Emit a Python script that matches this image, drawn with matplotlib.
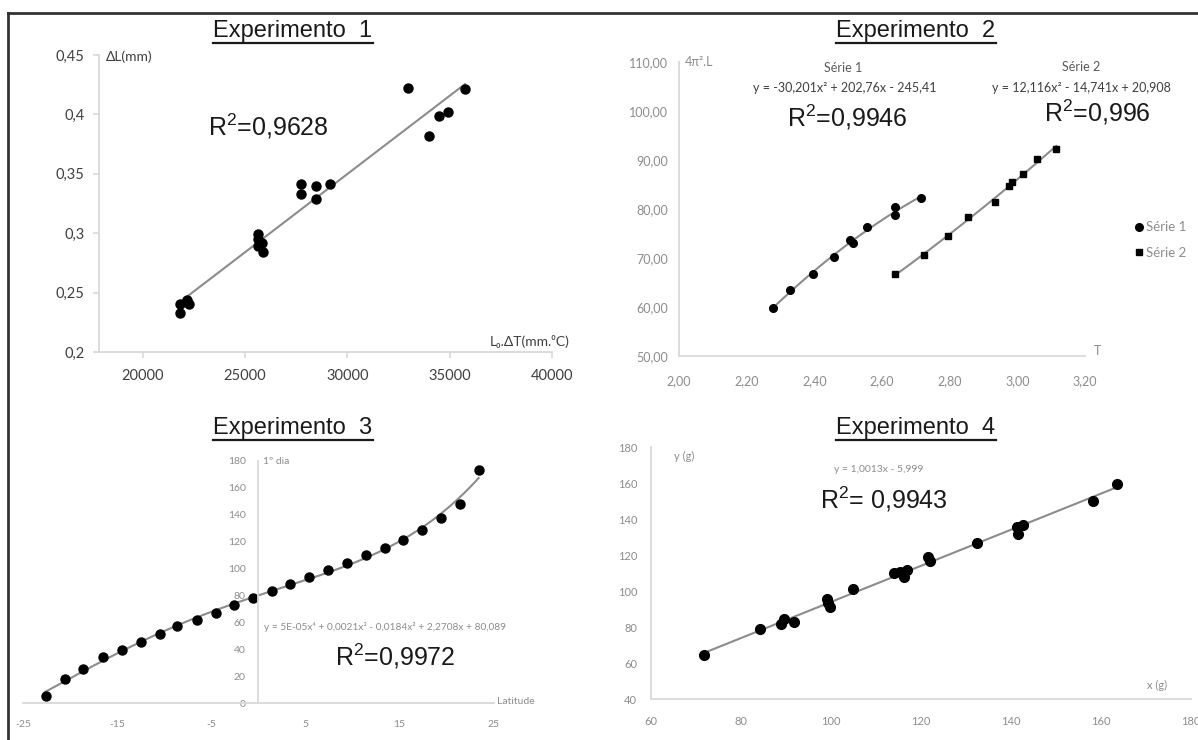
import numpy as np
import matplotlib
matplotlib.use("Agg")
import matplotlib.pyplot as plt
from matplotlib.lines import Line2D

plt.rcParams["axes.unicode_minus"] = False
plt.rcParams["mathtext.fontset"] = "custom"
plt.rcParams["mathtext.rm"] = "Liberation Sans"
plt.rcParams["mathtext.it"] = "Liberation Sans:italic"

W, H = 1198, 740

# Experimento 1
exp1_x = [21850, 21850, 22190, 22270, 25640, 25640, 25640, 25830, 25880, 27740,
          27740, 28480, 28480, 29180, 32980, 34010, 34490, 34940, 35750]
exp1_y = [0.233, 0.240, 0.244, 0.240, 0.299, 0.295, 0.289, 0.292, 0.284, 0.341,
          0.333, 0.340, 0.329, 0.341, 0.422, 0.382, 0.399, 0.402, 0.421]
exp1_xticks = [20000, 25000, 30000, 35000, 40000]
exp1_yticks = [0.2, 0.25, 0.3, 0.35, 0.4, 0.45]
exp1_ylabels = ["0,2", "0,25", "0,3", "0,35", "0,4", "0,45"]

# Experimento 2
s1_t = [2.277, 2.327, 2.396, 2.457, 2.506, 2.515, 2.557, 2.638, 2.638, 2.716]
s1_y = [59.7, 63.4, 66.8, 70.1, 73.6, 73.1, 76.2, 80.4, 78.7, 82.3]
s2_t = [2.638, 2.725, 2.796, 2.855, 2.935, 2.975, 2.985, 3.016, 3.057, 3.115]
s2_y = [66.7, 70.5, 74.4, 78.4, 81.4, 84.6, 85.4, 87.2, 90.1, 92.2]
exp2_xticks = [2.0, 2.2, 2.4, 2.6, 2.8, 3.0, 3.2]
exp2_xlabels = ["2,00", "2,20", "2,40", "2,60", "2,80", "3,00", "3,20"]
exp2_yticks = [50, 60, 70, 80, 90, 100, 110]
exp2_ylabels = ["50,00", "60,00", "70,00", "80,00", "90,00", "100,00", "110,00"]

# Experimento 3
lat = [-22.6, -20.5, -18.6, -16.5, -14.5, -12.5, -10.5, -8.6, -6.5, -4.5, -2.6, -0.6,
       1.4, 3.4, 5.4, 7.4, 9.4, 11.4, 13.5, 15.4, 17.4, 19.4, 21.4, 23.4]
dia = [5.6, 17.8, 25.7, 34.1, 39.5, 45.7, 51.6, 57.1, 61.8, 67.0, 72.7, 77.9,
       83.1, 88.3, 93.9, 98.9, 104.3, 110.0, 115.2, 121.1, 128.8, 137.5, 147.8, 173.1]
exp3_xticks = [-25, -15, -5, 5, 15, 25]
exp3_yticks = [0, 20, 40, 60, 80, 100, 120, 140, 160, 180]

# Experimento 4
exp4_x = [71.8, 84.3, 88.8, 89.6, 91.7, 99.0, 99.4, 99.7, 104.8, 114.1, 115.3,
          116.2, 116.9, 121.5, 122.1, 132.4, 141.3, 141.6, 142.6, 158.3, 163.6]
exp4_y = [64.3, 78.8, 81.7, 84.3, 82.7, 95.6, 93.2, 91.0, 101.4, 109.9, 110.6,
          108.0, 111.7, 119.2, 117.0, 126.8, 135.9, 131.6, 136.8, 150.0, 159.6]
exp4_xticks = [60, 80, 100, 120, 140, 160, 180]
exp4_yticks = [40, 60, 80, 100, 120, 140, 160, 180]

AXIS_GRAY = "#d9d9d9"
LINE_GRAY = "#8c8c8c"
SANS = ["Lato", "DejaVu Sans"]
ARIAL = ["Liberation Sans", "DejaVu Sans"]

fig = plt.figure(figsize=(W / 100, H / 100), dpi=100)


def px_axes(left, right, top, bottom):
    return fig.add_axes([left / W, 1 - bottom / H, (right - left) / W, (bottom - top) / H])


def px_text(x, y, s, **kw):
    return fig.text(x / W, 1 - y / H, s, **kw)


def style(ax, color, size, ticklen=0):
    for side in ["top", "right"]:
        ax.spines[side].set_visible(False)
    for side in ["left", "bottom"]:
        ax.spines[side].set_color(AXIS_GRAY)
        ax.spines[side].set_linewidth(1.3)
    ax.tick_params(length=ticklen, color=AXIS_GRAY, width=1.2, labelcolor=color, labelsize=size)
    for lab in ax.get_xticklabels() + ax.get_yticklabels():
        lab.set_family(SANS)
    ax.patch.set_alpha(0)


def trend(ax, x, y, deg):
    c = np.polyfit(x, y, deg)
    xs = np.linspace(min(x), max(x), 200)
    ax.plot(xs, np.polyval(c, xs), color=LINE_GRAY, lw=1.5, zorder=1)


def r2(x, y, s):
    return px_text(x, y, s, family=ARIAL, fontsize=18, color="#1a1a1a", ha="center", va="center")


# ---- panel 1
ax1 = px_axes(98.5, 552, 55, 352)
trend(ax1, exp1_x, exp1_y, 1)
ax1.plot(exp1_x, exp1_y, "o", color="black", ms=6.5, zorder=2)
ax1.set_xlim(17850, 40000)
ax1.set_ylim(0.2, 0.45)
ax1.set_xticks(exp1_xticks)
ax1.set_xticklabels([str(v) for v in exp1_xticks])
ax1.set_yticks(exp1_yticks)
ax1.set_yticklabels(exp1_ylabels)
style(ax1, "#404040", 10.5, ticklen=4)
ax1.tick_params(axis="x", pad=8)
ax1.tick_params(axis="y", pad=6)
px_text(106, 57, "ΔL(mm)", family=SANS, fontsize=10, color="#404040", va="center")
px_text(570, 342, "L₀.ΔT(mm.⁰C)", family=SANS, fontsize=10, color="#404040", va="center", ha="right")
r2(268, 126, "R$^{2}$=0,9628")

# ---- panel 2
ax2 = px_axes(679, 1085, 61.7, 356)
trend(ax2, s1_t, s1_y, 2)
trend(ax2, s2_t, s2_y, 2)
ax2.plot(s1_t, s1_y, "o", color="black", ms=5.5, zorder=2, label="Série 1")
ax2.plot(s2_t, s2_y, "s", color="black", ms=4.5, zorder=2, label="Série 2")
ax2.set_xlim(2.0, 3.2)
ax2.set_ylim(50, 110)
ax2.set_xticks(exp2_xticks)
ax2.set_xticklabels(exp2_xlabels)
ax2.set_yticks(exp2_yticks)
ax2.set_yticklabels(exp2_ylabels)
style(ax2, "#8c8c8c", 9)
ax2.tick_params(axis="x", pad=14)
ax2.tick_params(axis="y", pad=8)
ax2.legend(loc="center left", bbox_to_anchor=(1124 / W, 1 - 240 / H),
           bbox_transform=fig.transFigure, frameon=False, handlelength=0.5,
           handletextpad=0.3, labelspacing=1.0, prop={"family": SANS, "size": 9.5},
           labelcolor="#8c8c8c")
px_text(685, 62, "4π².L", family=SANS, fontsize=9, color="#8c8c8c", va="center")
px_text(1094, 351, "T", family=SANS, fontsize=9, color="#8c8c8c", va="center")
px_text(843, 68, "Série 1", family=SANS, fontsize=9, color="#595959", ha="center", va="center")
px_text(845, 88, "y = -30,201x² + 202,76x - 245,41", family=SANS, fontsize=9,
        color="#404040", ha="center", va="center")
r2(847, 117, "R$^{2}$=0,9946")
px_text(1081, 67, "Série 2", family=SANS, fontsize=9, color="#595959", ha="center", va="center")
px_text(1081, 88, "y = 12,116x² - 14,741x + 20,908", family=SANS, fontsize=9,
        color="#404040", ha="center", va="center")
r2(1097, 112, "R$^{2}$=0,996")

# ---- panel 3
ax3 = px_axes(23, 493.7, 460.7, 703.3)
trend(ax3, lat, dia, 4)
ax3.plot(lat, dia, "o", color="black", ms=6.5, zorder=2)
ax3.set_xlim(-25, 25)
ax3.set_ylim(0, 180)
ax3.set_xticks(exp3_xticks)
ax3.set_yticks(exp3_yticks)
ax3.spines["left"].set_position(("data", 0))
style(ax3, "#8c8c8c", 7.5)
ax3.tick_params(axis="x", pad=12)
ax3.tick_params(axis="y", pad=9)
px_text(263, 462, "1º dia", family=SANS, fontsize=7.5, color="#8c8c8c", va="center")
px_text(497, 702, "Latitude", family=SANS, fontsize=7.5, color="#8c8c8c", va="center")
px_text(264, 627, "y = 5E-05x⁴ + 0,0021x³ - 0,0184x² + 2,2708x + 80,089", family=SANS,
        fontsize=7.3, color="#8c8c8c", va="center")
r2(395, 656, "R$^{2}$=0,9972")

# ---- panel 4
ax4 = px_axes(651, 1191, 447.3, 699)
trend(ax4, exp4_x, exp4_y, 1)
ax4.plot(exp4_x, exp4_y, "o", color="black", ms=7, zorder=2)
ax4.set_xlim(60, 180)
ax4.set_ylim(40, 180)
ax4.set_xticks(exp4_xticks)
ax4.set_yticks(exp4_yticks)
style(ax4, "#8c8c8c", 8)
ax4.tick_params(axis="x", pad=12)
ax4.tick_params(axis="y", pad=10)
px_text(674, 456, "y (g)", family=SANS, fontsize=8, color="#8c8c8c", va="center")
px_text(1147, 685, "x (g)", family=SANS, fontsize=8, color="#8c8c8c", va="center")
px_text(879, 469, "y = 1,0013x - 5,999", family=SANS, fontsize=7.5, color="#8c8c8c",
        ha="center", va="center")
r2(884, 499, "R$^{2}$= 0,9943")

# ---- titles (underlined)
titles = [(293, 31, "Experimento  1"), (916, 31, "Experimento  2"),
          (293, 428, "Experimento  3"), (916, 428, "Experimento  4")]
title_artists = [px_text(x, y, s, family=ARIAL, fontsize=17, color="#1a1a1a",
                         ha="center", va="center") for x, y, s in titles]

fig.canvas.draw()
inv = fig.transFigure.inverted()
for t in title_artists:
    bb = t.get_window_extent()
    (x0, y0), (x1, _) = inv.transform([(bb.x0, bb.y0 - 1), (bb.x1, bb.y0)])
    fig.add_artist(Line2D([x0, x1], [y0, y0], transform=fig.transFigure, color="#1a1a1a", lw=1.6))

# outer frame (left and top edges)
fig.add_artist(Line2D([7.5 / W, 7.5 / W], [0, 1 - 12.5 / H], transform=fig.transFigure, color="#333333", lw=2))
fig.add_artist(Line2D([7.5 / W, 1], [1 - 12.5 / H, 1 - 12.5 / H], transform=fig.transFigure, color="#333333", lw=2))

fig.savefig("out.png", dpi=100)
